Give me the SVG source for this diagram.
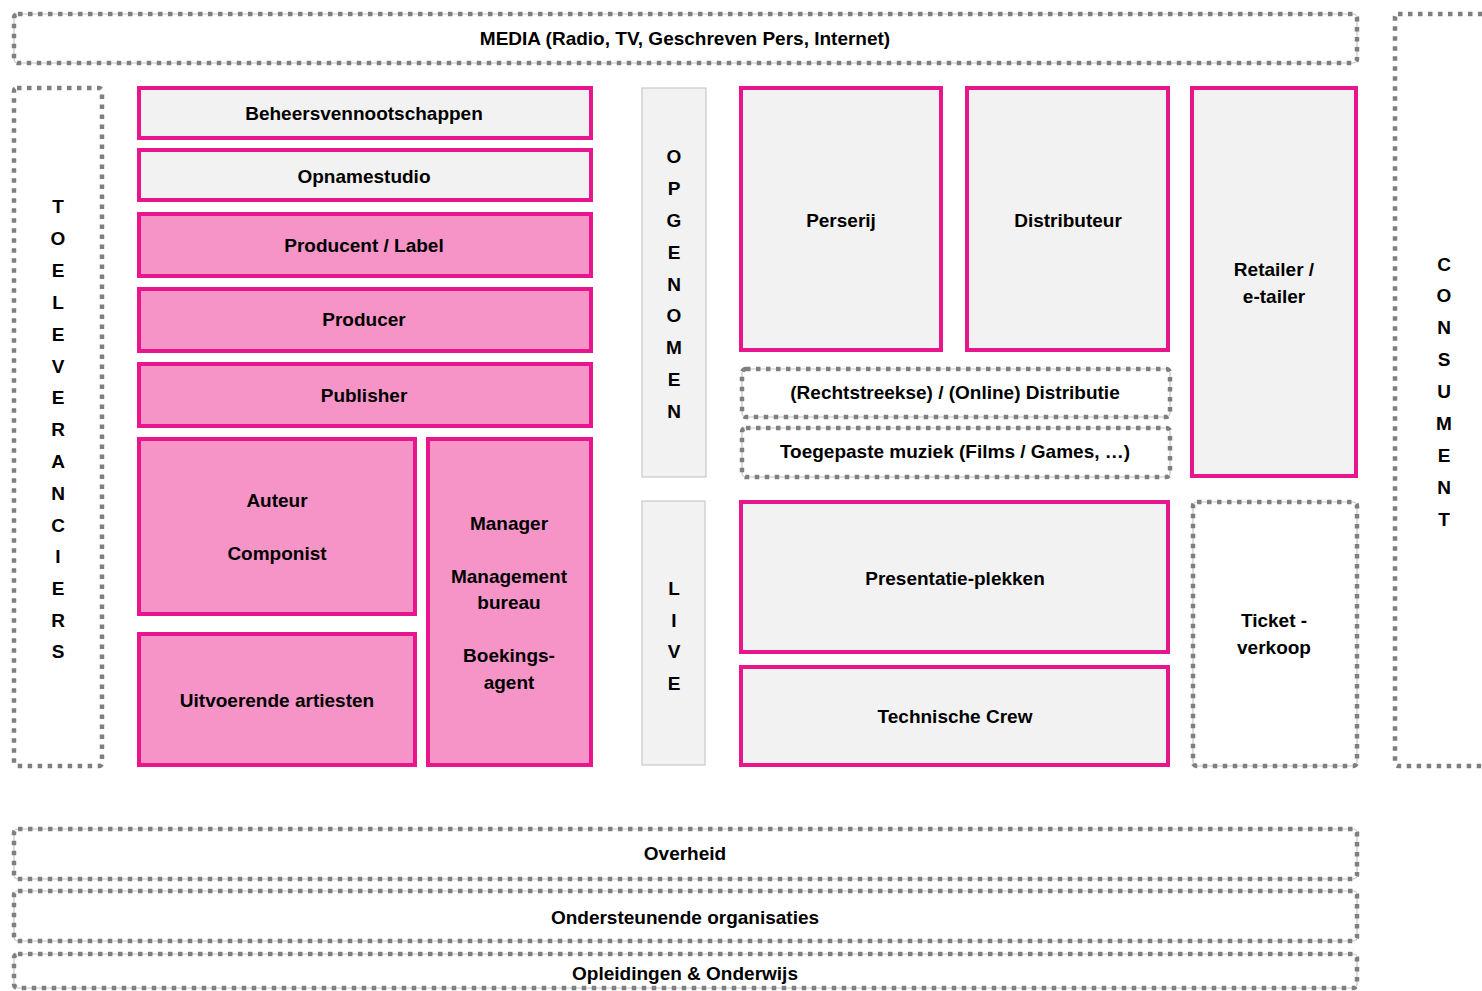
<svg xmlns="http://www.w3.org/2000/svg" width="1482" height="991" viewBox="0 0 1482 991">
<style>
.bg{fill:#ffffff}
.pk{fill:#f694c8;stroke:#e8168c;stroke-width:4}
.gr{fill:#f2f2f2;stroke:#e8168c;stroke-width:4}
.strip{fill:#f2f2f2;stroke:#c8c8c8;stroke-width:1.2}
.dl{fill:none;stroke:#c4c4c4;stroke-width:1.2}
.dd{fill:none;stroke:#7f7f7f;stroke-width:4.5;stroke-dasharray:4.5 5.5}
text{font-family:"Liberation Sans",Arial,sans-serif;font-weight:bold;font-size:19px;fill:#000;text-anchor:middle}
</style>
<rect class="bg" x="0" y="0" width="1482" height="991"/>

<g id="media">
<rect class="dl" x="14" y="14" width="1343" height="49" rx="4"/>
<rect class="dd" x="14" y="14" width="1343" height="49" rx="4"/>
<text x="685" y="45">MEDIA (Radio, TV, Geschreven Pers, Internet)</text>
</g>

<g id="toeleveranciers">
<rect class="dd" x="14" y="88" width="88" height="678" rx="3"/>
<text x="58" y="213">T</text><text x="58" y="245">O</text><text x="58" y="277">E</text><text x="58" y="309">L</text><text x="58" y="341">E</text><text x="58" y="373">V</text><text x="58" y="404">E</text><text x="58" y="436">R</text><text x="58" y="468">A</text><text x="58" y="500">N</text><text x="58" y="532">C</text><text x="58" y="563">I</text><text x="58" y="595">E</text><text x="58" y="627">R</text><text x="58" y="658">S</text>
</g>

<g id="consument">
<rect class="dd" x="1395" y="14" width="120" height="752" rx="3"/>
<text x="1444" y="271">C</text><text x="1444" y="302">O</text><text x="1444" y="334">N</text><text x="1444" y="366">S</text><text x="1444" y="398">U</text><text x="1444" y="430">M</text><text x="1444" y="462">E</text><text x="1444" y="494">N</text><text x="1444" y="526">T</text>
</g>

<g id="beheersvennootschappen">
<rect class="gr" x="139" y="88" width="452" height="50"/>
<text x="364" y="120">Beheersvennootschappen</text>
</g>
<g id="opnamestudio">
<rect class="gr" x="139" y="150" width="452" height="50"/>
<text x="364" y="183">Opnamestudio</text>
</g>
<g id="producent">
<rect class="pk" x="139" y="214" width="452" height="62"/>
<text x="364" y="252">Producent / Label</text>
</g>
<g id="producer">
<rect class="pk" x="139" y="289" width="452" height="62"/>
<text x="364" y="326">Producer</text>
</g>
<g id="publisher">
<rect class="pk" x="139" y="364" width="452" height="62"/>
<text x="364" y="402">Publisher</text>
</g>
<g id="auteur">
<rect class="pk" x="139" y="439" width="276" height="175"/>
<text x="277" y="507">Auteur</text>
<text x="277" y="560">Componist</text>
</g>
<g id="uitvoerende">
<rect class="pk" x="139" y="634" width="276" height="131"/>
<text x="277" y="707">Uitvoerende artiesten</text>
</g>
<g id="manager">
<rect class="pk" x="428" y="439" width="163" height="326"/>
<text x="509" y="530">Manager</text>
<text x="509" y="583">Management</text>
<text x="509" y="609">bureau</text>
<text x="509" y="662">Boekings-</text>
<text x="509" y="689">agent</text>
</g>

<g id="opgenomen">
<rect class="strip" x="642" y="88" width="64" height="389"/>
<text x="674" y="163">O</text><text x="674" y="195">P</text><text x="674" y="227">G</text><text x="674" y="259">E</text><text x="674" y="291">N</text><text x="674" y="322">O</text><text x="674" y="354">M</text><text x="674" y="386">E</text><text x="674" y="418">N</text>
</g>
<g id="live">
<rect class="strip" x="642" y="501" width="63" height="264"/>
<text x="674" y="595">L</text><text x="674" y="627">I</text><text x="674" y="658">V</text><text x="674" y="690">E</text>
</g>

<g id="perserij">
<rect class="gr" x="741" y="88" width="200" height="262"/>
<text x="841" y="227">Perserij</text>
</g>
<g id="distributeur">
<rect class="gr" x="967" y="88" width="201" height="262"/>
<text x="1068" y="227">Distributeur</text>
</g>
<g id="retailer">
<rect class="gr" x="1192" y="88" width="164" height="388"/>
<text x="1274" y="276">Retailer /</text>
<text x="1274" y="303">e-tailer</text>
</g>
<g id="rechtstreekse">
<rect class="dl" x="742" y="369" width="428" height="48" rx="4"/>
<rect class="dd" x="742" y="369" width="428" height="48" rx="4"/>
<text x="955" y="399">(Rechtstreekse) / (Online) Distributie</text>
</g>
<g id="toegepaste">
<rect class="dl" x="742" y="428" width="428" height="49" rx="4"/>
<rect class="dd" x="742" y="428" width="428" height="49" rx="4"/>
<text x="955" y="458">Toegepaste muziek (Films / Games, …)</text>
</g>
<g id="presentatie">
<rect class="gr" x="741" y="502" width="427" height="150"/>
<text x="955" y="585">Presentatie-plekken</text>
</g>
<g id="technische">
<rect class="gr" x="741" y="667" width="427" height="98"/>
<text x="955" y="723">Technische Crew</text>
</g>
<g id="ticket">
<rect class="dl" x="1193" y="502" width="164" height="264" rx="4"/>
<rect class="dd" x="1193" y="502" width="164" height="264" rx="4"/>
<text x="1274" y="627">Ticket -</text>
<text x="1274" y="654">verkoop</text>
</g>

<g id="overheid">
<rect class="dl" x="14" y="829" width="1343" height="50" rx="4"/>
<rect class="dd" x="14" y="829" width="1343" height="50" rx="4"/>
<text x="685" y="860">Overheid</text>
</g>
<g id="ondersteunende">
<rect class="dl" x="14" y="891" width="1343" height="50" rx="4"/>
<rect class="dd" x="14" y="891" width="1343" height="50" rx="4"/>
<text x="685" y="924">Ondersteunende organisaties</text>
</g>
<g id="opleidingen">
<rect class="dl" x="14" y="954" width="1343" height="34" rx="4"/>
<rect class="dd" x="14" y="954" width="1343" height="34" rx="4"/>
<text x="685" y="980">Opleidingen &amp; Onderwijs</text>
</g>

<g id="connectors"></g>
</svg>
